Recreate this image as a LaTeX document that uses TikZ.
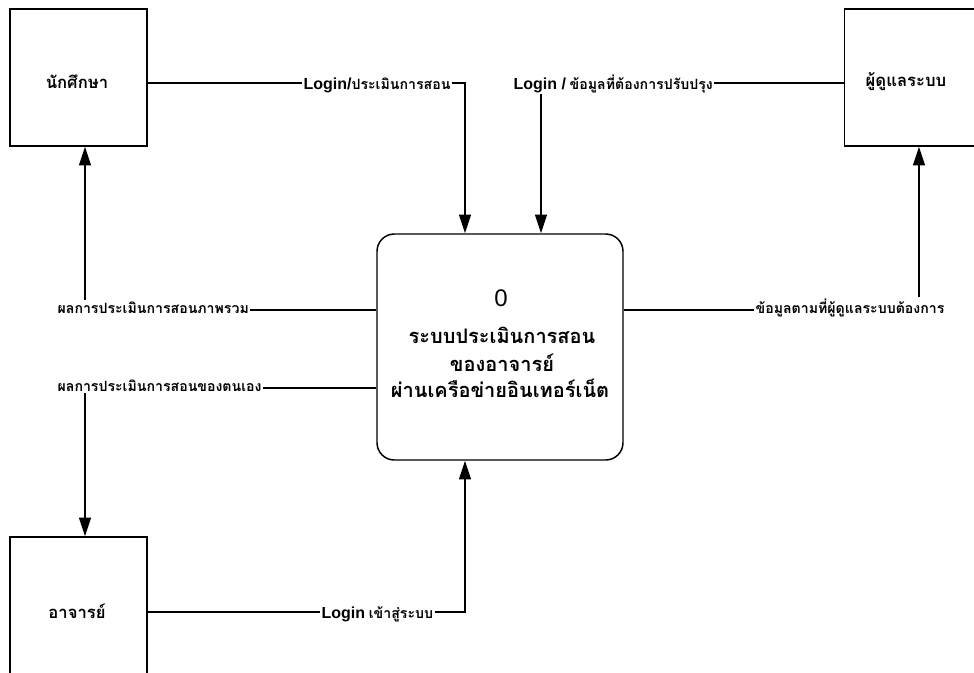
\documentclass[tikz,border=0pt]{standalone}
\usepackage{fontspec}
\setmainfont{Liberation Sans}
\newfontfamily\thaifont[Script=Thai]{Loma}
\usetikzlibrary{arrows.meta}
\newcommand\LoginTxt[1]{{\bfseries\fontsize{12}{14}\selectfont #1}}
\newcommand\ThSmall[1]{{\thaifont\bfseries\fontsize{10.6}{12}\selectfont #1}}
\begin{document}
\begin{tikzpicture}[x=0.75pt,y=-0.75pt,
  conn/.style={line width=1.1pt},
  flow/.style={line width=1.1pt,-{Triangle[length=14pt,width=9pt]}},
  ent/.style={draw,line width=1.1pt,minimum width=102.75pt,minimum height=102.75pt,inner sep=0pt},
  proc/.style={draw,line width=1.1pt,rounded corners=13pt,minimum width=184.5pt,minimum height=169.5pt,inner sep=0pt},
  lbl/.style={inner sep=1pt,anchor=base west},
  boxtxt/.style={font=\thaifont\bfseries\fontsize{12.5}{15}\selectfont,inner sep=0pt},
  proctxt/.style={font=\thaifont\bfseries\fontsize{15}{18}\selectfont,inner sep=0pt,anchor=base}
]
\useasboundingbox (0,0) rectangle (974,672);

% entities
\node[ent] (student) at (78.5,77.5) {};
\node[boxtxt] (tstudent) at (77,82) {นักศึกษา};
\node[ent] (admin) at (913,77.5) {};
\node[boxtxt] (tadmin) at (906,82) {ผู้ดูแลระบบ};
\node[ent,minimum height=112.5pt] (teacher) at (78.5,612) {};
\node[boxtxt] (tteacher) at (77,611) {อาจารย์};

% process
\node[proc] (proc) at (500,347) {};
\node[font=\fontsize{18}{20}\selectfont,inner sep=0pt,anchor=base] (p0) at (501,306) {0};
\node[proctxt] (p1) at (502,343) {ระบบประเมินการสอน};
\node[proctxt] (p2) at (502,371) {ของอาจารย์};
\node[proctxt] (p3) at (500,397) {ผ่านเครือข่ายอินเทอร์เน็ต};

% corner coordinates
\coordinate (r1) at (465,83);
\coordinate (r5) at (541,83);
\coordinate (rl2) at (85,310);
\coordinate (rl3) at (85,388);
\coordinate (rr) at (919,310);
\coordinate (r6) at (465,612);

% labels
\node[lbl] (l1) at (302,89) {\LoginTxt{Login/}\ThSmall{ประเมินการสอน}};
\node[lbl] (l5) at (512,89) {\LoginTxt{Login /} \ThSmall{ข้อมูลที่ต้องการปรับปรุง}};
\node[lbl] (l2) at (56,313.5) {\ThSmall{ผลการประเมินการสอนภาพรวม}};
\node[lbl] (l3) at (56,391.5) {\ThSmall{ผลการประเมินการสอนของตนเอง}};
\node[lbl] (l4) at (754,313.5) {\ThSmall{ข้อมูลตามที่ผู้ดูแลระบบต้องการ}};
\node[lbl] (l6) at (320,618) {\LoginTxt{Login} \ThSmall{เข้าสู่ระบบ}};

% connectors
\draw[conn] (student.east |- r1) -- (l1.west |- r1);
\draw[flow] (l1.east |- r1) -- (r1) -- (r1 |- proc.north);

\draw[conn] (l5.east |- r5) -- (admin.west |- r5);
\draw[flow] (r5 |- l5.south) -- (r5 |- proc.north);

\draw[conn] (proc.west |- rl2) -- (l2.east |- rl2);
\draw[flow] (rl2 |- l2.north) -- (rl2 |- student.south);

\draw[conn] (proc.west |- rl3) -- (l3.east |- rl3);
\draw[flow] (rl3 |- l3.south) -- (rl3 |- teacher.north);

\draw[conn] (proc.east |- rr) -- (l4.west |- rr);
\draw[flow] (rr |- l4.north) -- (rr |- admin.south);

\draw[conn] (teacher.east |- r6) -- (l6.west |- r6);
\draw[flow] (l6.east |- r6) -- (r6) -- (r6 |- proc.south);
\end{tikzpicture}
\end{document}
